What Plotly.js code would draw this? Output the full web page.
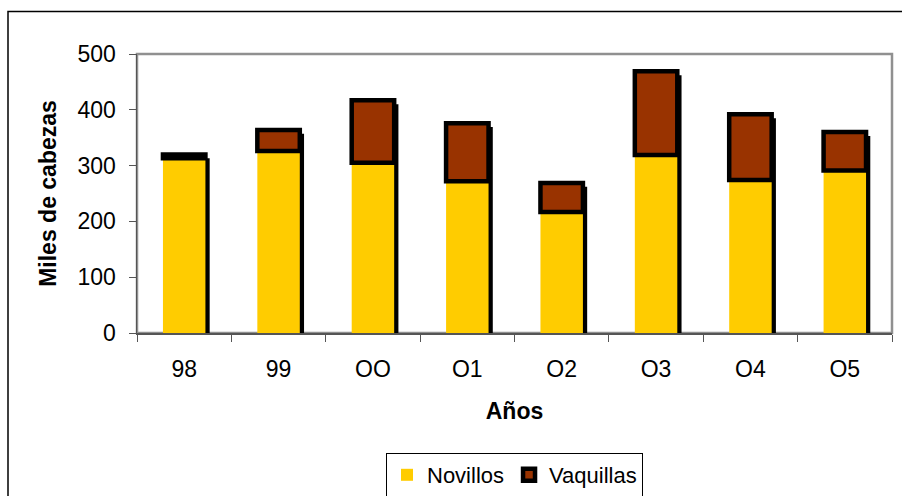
<!DOCTYPE html>
<html>
<head>
<meta charset="utf-8">
<script src="https://cdn.plot.ly/plotly-3.0.1.min.js"></script>
<style>
  html, body { margin: 0; padding: 0; background: #ffffff; }
  #chart { width: 902px; height: 496px; }
</style>
</head>
<body>
<div id="chart"></div>
<script>
// ---- data ----
const years = ["98", "99", "OO", "O1", "O2", "O3", "O4", "O5"];
const novillos = [313, 326, 305, 272, 217, 319, 274, 291];
const vaquillas = [7, 38, 112, 104, 52, 150, 118, 69];
const seriesNames = ["Novillos", "Vaquillas"];

// ---- derived ----
const totals = novillos.map((v, i) => v + vaquillas[i]);
const shadowDrop = 7;

const font = "Liberation Sans, Arial, sans-serif";
const fs = 23;
const barWidth = 0.45;

const traces = [
  {
    type: "bar", x: years, y: totals, base: years.map(() => -shadowDrop),
    width: barWidth, offset: -barWidth / 2 + 0.045,
    marker: { color: "#000000", line: { width: 0 } },
    showlegend: false, hoverinfo: "skip"
  },
  {
    type: "bar", name: seriesNames[0], x: years, y: novillos,
    width: barWidth, offset: -barWidth / 2,
    marker: { color: "#FFCC00", line: { width: 0 } }
  },
  {
    type: "bar", name: seriesNames[1], x: years, y: vaquillas, base: novillos,
    width: barWidth, offset: -barWidth / 2,
    marker: { color: "#993300", line: { color: "#000000", width: 4.5 } }
  }
];

const L = 137, R = 892, T = 54, B = 333;
const pw = R - L, ph = B - T;
const px = v => (v - L) / pw;
const py = v => (B - v) / ph;

const layout = {
  width: 902, height: 496,
  margin: { l: L, r: 902 - R, t: T, b: 496 - B, pad: 0, autoexpand: false },
  paper_bgcolor: "#ffffff", plot_bgcolor: "#ffffff",
  barmode: "overlay",
  font: { family: font, size: fs, color: "#000000" },
  showlegend: true,
  legend: {
    orientation: "h", x: 0.5, xanchor: "center", y: py(453), yanchor: "top",
    bordercolor: "#000000", borderwidth: 1, bgcolor: "#ffffff",
    font: { family: font, size: 22, color: "#000000" },
    traceorder: "normal", itemwidth: 30
  },
  xaxis: {
    type: "category", showgrid: false, zeroline: false,
    showline: true, linecolor: "#555555", linewidth: 1.5,
    ticks: "outside", tickson: "boundaries", ticklen: 7, tickcolor: "#555555", tickwidth: 1,
    ticklabelstandoff: 15,
    tickfont: { family: font, size: fs, color: "#000000" },
    title: { text: "Años", font: { family: font, size: fs, color: "#000000", weight: "bold" }, standoff: 22 },
    automargin: false
  },
  yaxis: {
    range: [0, 500], dtick: 100, showgrid: false, zeroline: false,
    showline: true, linecolor: "#555555", linewidth: 1.5,
    ticks: "outside", ticklen: 7, tickcolor: "#555555", tickwidth: 1,
    ticklabelstandoff: 8,
    tickfont: { family: font, size: fs, color: "#000000" },
    title: { text: "Miles de cabezas", font: { family: font, size: fs, color: "#000000", weight: "bold" }, standoff: 14 },
    automargin: false
  },
  shapes: [
    { type: "rect", xref: "paper", yref: "paper", x0: 0, x1: 1, y0: 0, y1: 1,
      line: { color: "#909090", width: 2.5 }, layer: "below" },
    { type: "rect", xref: "paper", yref: "paper", x0: px(8), x1: px(910), y0: py(520), y1: py(11.5),
      line: { color: "#000000", width: 1.5 }, layer: "below" }
  ]
};

Plotly.newPlot("chart", traces, layout, { displayModeBar: false, staticPlot: true });
</script>
</body>
</html>
